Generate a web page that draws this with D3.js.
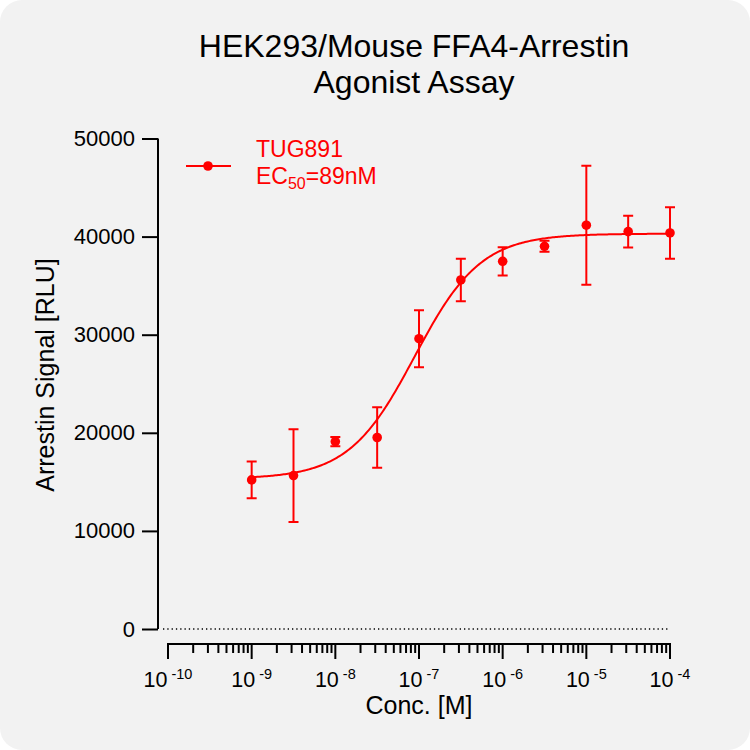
<!DOCTYPE html>
<html>
<head>
<meta charset="utf-8">
<script src="https://cdn.jsdelivr.net/npm/d3@7"></script>
<style>
  html, body { margin: 0; padding: 0; background: #ffffff; }
  svg { display: block; }
  text { font-family: "Liberation Sans", Arial, sans-serif; }
</style>
</head>
<body>
<div id="chart"></div>
<script>
// data
const logConc = [-9, -8.5, -8, -7.5, -7, -6.5, -6, -5.5, -5, -4.5, -4];
const meanRLU = [15200, 15640, 19110, 19520, 29590, 35580, 37480, 39010, 41160, 40510, 40370];
const semRLU  = [1870, 4730, 470, 3080, 2900, 2160, 1440, 560, 6070, 1610, 2620];

// 4PL fit shown on the chart
const fitBottom = 15300;
const fitTop = 40300;
const fitLogEC50 = Math.log10(89e-9);
const fitHill = 1.1;

const yTicks = [0, 10000, 20000, 30000, 40000, 50000];
const xDecades = [-10, -9, -8, -7, -6, -5, -4];
const seriesName = "TUG891";
const titleLines = ["HEK293/Mouse FFA4-Arrestin", "Agonist Assay"];

const W = 750, H = 750;
const red = "#ff0000";
const ink = "#000000";

const svg = d3.select("#chart").append("svg")
    .attr("width", W)
    .attr("height", H);

// panel background
svg.append("rect")
    .attr("x", 0).attr("y", 0)
    .attr("width", W).attr("height", H)
    .attr("rx", 22).attr("ry", 22)
    .attr("fill", "#f2f2f2");

const x = d3.scaleLinear().domain([-10, -4]).range([168, 670]);
const y = d3.scaleLinear().domain([0, 50000]).range([629, 138.5]);

// -----------------------------
// Title
// -----------------------------
svg.append("text")
    .attr("x", 414)
    .attr("text-anchor", "middle")
    .attr("font-size", 32)
    .attr("fill", ink)
    .selectAll("tspan")
    .data(titleLines)
    .join("tspan")
    .attr("x", 414)
    .attr("y", (d, i) => 57 + i * 36)
    .text(d => d);

// -----------------------------
// Y axis
// -----------------------------
const yAxisX = 158;
const gy = svg.append("g").attr("transform", `translate(${yAxisX},0)`);
gy.call(d3.axisLeft(y).tickValues(yTicks).tickSize(16).tickPadding(7).tickFormat(d3.format("d")));
gy.select(".domain").attr("d", `M0,${y(50000)}V${y(0)}`);
gy.selectAll("path, line").attr("stroke", ink).attr("stroke-width", 2);
gy.selectAll("text")
    .attr("font-size", 22)
    .attr("font-family", "Liberation Sans, Arial, sans-serif")
    .attr("fill", ink);

// dotted zero line
svg.append("line")
    .attr("x1", yAxisX + 5).attr("x2", x(-4))
    .attr("y1", y(0)).attr("y2", y(0))
    .attr("stroke", ink)
    .attr("stroke-width", 1.3)
    .attr("stroke-dasharray", "1.3,3");

// -----------------------------
// X axis (log scale drawn on log10 values)
// -----------------------------
const xAxisY = 644;
const gx = svg.append("g").attr("transform", `translate(0,${xAxisY})`);
gx.append("line")
    .attr("x1", x(-10)).attr("x2", x(-4))
    .attr("stroke", ink).attr("stroke-width", 2);

const minorTicks = [];
xDecades.slice(0, -1).forEach(dec => {
    for (let m = 2; m <= 9; m++) minorTicks.push(dec + Math.log10(m));
});

gx.selectAll(".minor")
    .data(minorTicks)
    .join("line")
    .attr("class", "minor")
    .attr("x1", d => x(d)).attr("x2", d => x(d))
    .attr("y1", 0).attr("y2", 9)
    .attr("stroke", ink).attr("stroke-width", 2);

gx.selectAll(".major")
    .data(xDecades)
    .join("line")
    .attr("class", "major")
    .attr("x1", d => x(d)).attr("x2", d => x(d))
    .attr("y1", -1).attr("y2", 15)
    .attr("stroke", ink).attr("stroke-width", 2);

const xLabels = gx.selectAll(".xlab")
    .data(xDecades)
    .join("text")
    .attr("class", "xlab")
    .attr("x", d => x(d))
    .attr("y", 43)
    .attr("text-anchor", "middle")
    .attr("font-size", 21.5)
    .attr("fill", ink);
xLabels.append("tspan").text("10");
xLabels.append("tspan")
    .attr("font-size", 14.5)
    .attr("dx", 4)
    .attr("dy", -8)
    .text(d => "-" + Math.abs(d));

// axis titles
svg.append("text")
    .attr("x", 419)
    .attr("y", 714)
    .attr("text-anchor", "middle")
    .attr("font-size", 25)
    .attr("fill", ink)
    .text("Conc. [M]");

svg.append("text")
    .attr("transform", "translate(54,375) rotate(-90)")
    .attr("text-anchor", "middle")
    .attr("font-size", 25)
    .attr("fill", ink)
    .text("Arrestin Signal [RLU]");

// -----------------------------
// Fit curve
// -----------------------------
function fourPL(lx) {
    return fitBottom + (fitTop - fitBottom) / (1 + Math.pow(10, (fitLogEC50 - lx) * fitHill));
}
const curveX = d3.range(0, 301).map(i => -9 + i * 5 / 300);
const line = d3.line()
    .x(d => x(d))
    .y(d => y(fourPL(d)))
    .curve(d3.curveLinear);

svg.append("path")
    .datum(curveX)
    .attr("d", line)
    .attr("fill", "none")
    .attr("stroke", red)
    .attr("stroke-width", 2);

// -----------------------------
// Points and error bars
// -----------------------------
const pts = logConc.map((lc, i) => ({ lc, m: meanRLU[i], e: semRLU[i] }));
const gPts = svg.append("g");
const capW = 5;

gPts.selectAll(".err")
    .data(pts)
    .join("path")
    .attr("class", "err")
    .attr("d", d => {
        const px = x(d.lc), top = y(d.m + d.e), bot = y(d.m - d.e);
        return `M${px},${top}V${bot}M${px - capW},${top}H${px + capW}M${px - capW},${bot}H${px + capW}`;
    })
    .attr("fill", "none")
    .attr("stroke", red)
    .attr("stroke-width", 2);

gPts.selectAll("circle")
    .data(pts)
    .join("circle")
    .attr("cx", d => x(d.lc))
    .attr("cy", d => y(d.m))
    .attr("r", 4.8)
    .attr("fill", red);

// -----------------------------
// Legend
// -----------------------------
const lg = svg.append("g");
lg.append("line")
    .attr("x1", 186).attr("x2", 231)
    .attr("y1", 166).attr("y2", 166)
    .attr("stroke", red).attr("stroke-width", 2);
lg.append("circle")
    .attr("cx", 208).attr("cy", 166).attr("r", 4.8)
    .attr("fill", red);
lg.append("text")
    .attr("x", 256).attr("y", 157)
    .attr("font-size", 23)
    .attr("fill", red)
    .text(seriesName);
const ec = lg.append("text")
    .attr("x", 256).attr("y", 184)
    .attr("font-size", 23)
    .attr("fill", red);
ec.append("tspan").text("EC");
ec.append("tspan").attr("font-size", 16).attr("dy", 5).text("50");
ec.append("tspan").attr("dy", -5).text("=89nM");
</script>
</body>
</html>
